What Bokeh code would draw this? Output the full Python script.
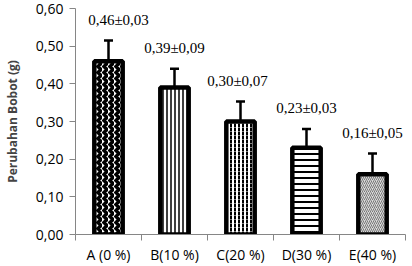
from bokeh.plotting import figure
from bokeh.models import (ColumnDataSource, FixedTicker, CustomJSTickFormatter,
                          Whisker, TeeHead, Range1d)
from bokeh.core.properties import value
from bokeh.embed import file_html
from bokeh.resources import INLINE

# Treatment groups and measured weight change (g)
categories = ["A (0 %)", "B(10 %)", "C(20 %)", "D(30 %)", "E(40 %)"]
means = [0.46, 0.39, 0.30, 0.23, 0.16]
sds = [0.03, 0.09, 0.07, 0.03, 0.05]
# error bar half-lengths as drawn
err = [0.055, 0.05, 0.053, 0.05, 0.055]
y_ticks = [0.0, 0.1, 0.2, 0.3, 0.4, 0.5, 0.6]

def fmt(v):
    return f"{v:.2f}".replace(".", ",")

xs = [i + 1 for i in range(len(categories))]
labels = [f"{fmt(m)}\u00b1{fmt(s)}" for m, s in zip(means, sds)]

p = figure(width=412, height=266, output_backend="svg", toolbar_location=None,
           x_range=Range1d(0.5, len(categories) + 0.5), y_range=Range1d(0, 0.6),
           min_border_left=0, min_border_right=7, min_border_top=8, min_border_bottom=0)
p.outline_line_color = None
p.xgrid.visible = False
p.ygrid.visible = False
p.background_fill_color = "white"
p.border_fill_color = "white"

# bar fill patterns per group
patterns = [
    dict(hatch_pattern="vertical_wave", hatch_color="black", hatch_weight=3.5, hatch_scale=6, fill_color="white"),
    dict(hatch_pattern="vertical_line", hatch_color="black", hatch_weight=1.5, hatch_scale=4, fill_color="white"),
    dict(hatch_pattern="vertical_dash", hatch_color="black", hatch_weight=2, hatch_scale=4, fill_color="white"),
    dict(hatch_pattern="horizontal_line", hatch_color="black", hatch_weight=2, hatch_scale=6, fill_color="white"),
    dict(hatch_pattern="right_diagonal_line", hatch_color="#777777", hatch_weight=1, hatch_scale=4, fill_color="#d9d9d9"),
]
for x, m, pat in zip(xs, means, patterns):
    p.vbar(x=[x], top=[m], bottom=0, width=0.43, line_color="black", line_width=4.5, **pat)

src = ColumnDataSource(dict(
    x=xs, mean=means,
    lower=[m - e for m, e in zip(means, err)],
    upper=[m + e for m, e in zip(means, err)],
    label=labels,
    xoff=[10, 0, -3, 0, 0],
))
wh = Whisker(base="x", lower="lower", upper="upper", source=src,
             line_color="black", line_width=2.5,
             upper_head=TeeHead(size=9, line_color="black", line_width=2.5),
             lower_head=None)
p.add_layout(wh)

p.text(x="x", y="upper", text="label", source=src, x_offset="xoff", y_offset=-13,
       text_align="center", text_baseline="bottom",
       text_font=value("Liberation Serif"), text_font_size="15px", text_color="black")

# x axis: labels at category centres, ticks at boundaries
p.xaxis.ticker = FixedTicker(ticks=xs, minor_ticks=[x - 0.5 for x in xs] + [xs[-1] + 0.5])
p.xaxis.major_label_overrides = {x: c for x, c in zip(xs, categories)}
p.xaxis.major_tick_out = 0
p.xaxis.major_tick_in = 0
p.xaxis.minor_tick_out = 6
p.xaxis.minor_tick_in = 0
p.xaxis.minor_tick_line_color = "#868686"
p.xaxis.axis_line_color = "#868686"
p.xaxis.major_label_standoff = 4
p.xaxis.major_label_text_font = "Open Sans"
p.xaxis.major_label_text_font_size = "14px"
p.xaxis.major_label_text_color = "black"

p.yaxis.ticker = FixedTicker(ticks=y_ticks)
p.yaxis.formatter = CustomJSTickFormatter(code="return tick.toFixed(2).replace('.', ',');")
p.yaxis.major_tick_out = 6
p.yaxis.major_tick_in = 0
p.yaxis.minor_tick_out = 0
p.yaxis.minor_tick_in = 0
p.yaxis.axis_line_color = "#868686"
p.yaxis.major_tick_line_color = "#868686"
p.yaxis.major_label_standoff = 6
p.yaxis.major_label_text_font = "Open Sans"
p.yaxis.major_label_text_font_size = "14px"
p.yaxis.major_label_text_color = "black"
p.yaxis.axis_label = "Perubahan Bobot (g)"
p.yaxis.axis_label_text_font = "Open Sans"
p.yaxis.axis_label_text_font_style = "bold"
p.yaxis.axis_label_text_font_size = "12px"
p.yaxis.axis_label_standoff = 12

open("out.html", "w").write(file_html(p, INLINE))
